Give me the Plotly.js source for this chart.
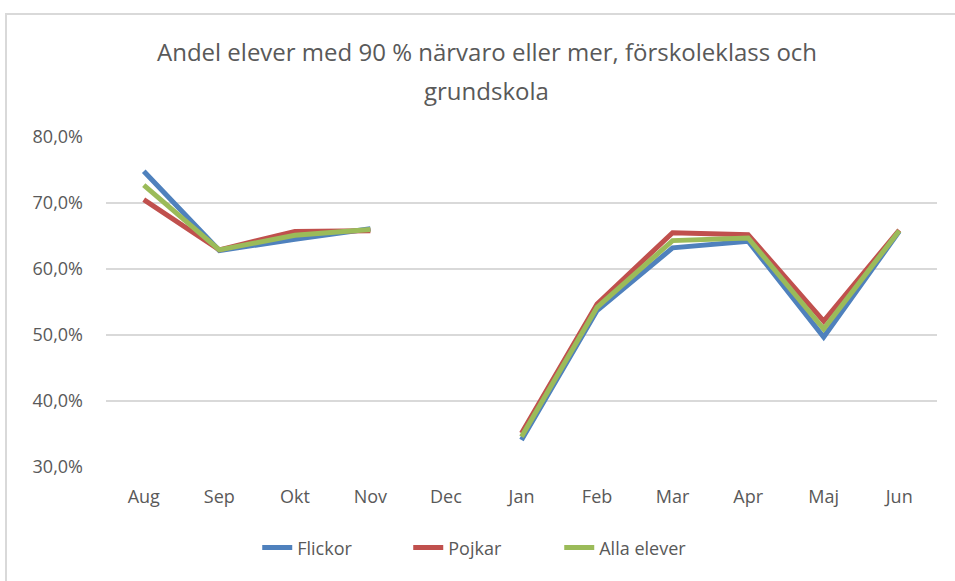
<!DOCTYPE html>
<html>
<head>
<meta charset="utf-8">
<script src="https://cdn.plot.ly/plotly-3.0.1.min.js"></script>
<style>
html,body{margin:0;padding:0;background:#fff;}
#chart{width:955px;height:581px;position:absolute;left:0;top:0;}
#frame{position:absolute;left:5px;top:13px;width:980px;height:620px;border-left:2px solid #d9d9d9;border-top:2px solid #d9d9d9;pointer-events:none;}
</style>
</head>
<body>
<div id="chart"></div>
<div id="frame"></div>
<script>
const months = ["Aug","Sep","Okt","Nov","Dec","Jan","Feb","Mar","Apr","Maj","Jun"];
const flickor = [0.748,0.628,0.645,0.661,null,0.341,0.537,0.632,0.642,0.497,0.657];
const pojkar  = [0.705,0.629,0.657,0.658,null,0.351,0.547,0.655,0.652,0.521,0.659];
const alla    = [0.727,0.629,0.651,0.660,null,0.346,0.542,0.643,0.647,0.509,0.658];
const seriesNames = ["Flickor","Pojkar","Alla elever"];
const colors = ["#4F81BD","#C0504D","#9BBB59"];
const titleLines = ["Andel elever med 90 % närvaro eller mer, förskoleklass och","grundskola"];
const data = [flickor,pojkar,alla].map((v,i)=>({
  type:"scatter", mode:"lines", x:months, y:v, name:seriesNames[i],
  line:{color:colors[i], width:5}, connectgaps:false
}));
const titleY = [1.2576, 1.1424];
const layout = {
  width:955, height:581,
  margin:{l:106,r:18,t:137,b:114},
  paper_bgcolor:"#fff", plot_bgcolor:"#fff",
  separators:", ",
  font:{family:"Open Sans, sans-serif", color:"#595959", size:18},
  annotations: titleLines.map((t,i)=>({
    text:t, xref:"paper", yref:"paper", x:0.458, y:titleY[i],
    xanchor:"center", yanchor:"middle", showarrow:false,
    font:{size:24, color:"#595959", family:"Open Sans, sans-serif"}
  })),
  xaxis:{type:"category", range:[-0.5,10.5], showgrid:false, zeroline:false, showline:false,
    ticks:"", ticklabelstandoff:17, tickfont:{size:18,color:"#595959"}},
  yaxis:{range:[0.3,0.8], dtick:0.1, tick0:0.3, tickformat:".1%", showgrid:true,
    gridcolor:"#d9d9d9", gridwidth:1.5, zeroline:false, showline:false, ticks:"",
    ticklabelstandoff:22, tickfont:{size:18,color:"#595959"}},
  legend:{orientation:"h", x:0.182, xanchor:"left", y:-0.245, yanchor:"middle",
    entrywidth:106, entrywidthmode:"pixels",
    font:{size:18,color:"#595959"}},
  showlegend:true
};
Plotly.newPlot("chart", data, layout, {displayModeBar:false, staticPlot:true});
</script>
</body>
</html>
